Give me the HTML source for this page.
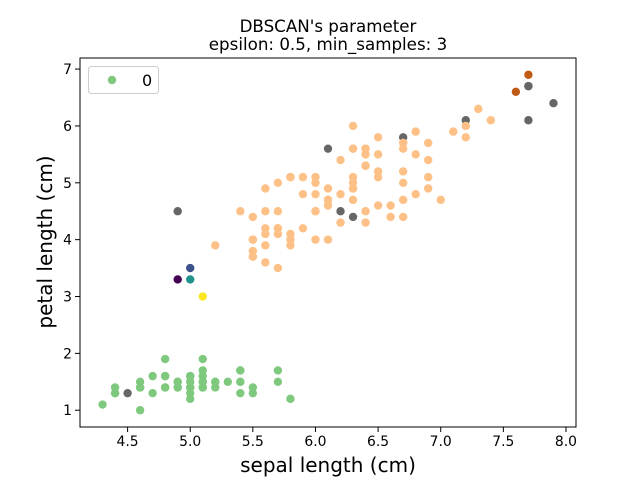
<!DOCTYPE html>
<html><head><meta charset="utf-8"><style>
body{margin:0;background:#fff}
svg text{font-family:"DejaVu Sans","Liberation Sans",sans-serif;fill:#000}
</style></head><body>
<svg id="chart" width="640" height="480" xmlns="http://www.w3.org/2000/svg">
<rect width="640" height="480" fill="#fff"/>
<text x="328" y="32" font-size="16.7" text-anchor="middle">DBSCAN's parameter</text>
<text x="328" y="50" font-size="16.7" text-anchor="middle">epsilon: 0.5, min_samples: 3</text>
<g id="ticks"></g>
<g id="points"></g>
<rect x="80" y="58" width="496" height="369" fill="none" stroke="#000" stroke-width="1"/>
<text x="328" y="472" font-size="20" text-anchor="middle">sepal length (cm)</text>
<text transform="translate(52,242) rotate(-90)" font-size="20" text-anchor="middle">petal length (cm)</text>
<g>
<rect x="88.5" y="66.5" width="70" height="27" rx="3" fill="#fff" stroke="#ccc"/>
<circle cx="112" cy="80" r="4.2" fill="#7fc97f"/>
<text x="142" y="86" font-size="16">0</text>
</g>
</svg>
<script>
const xTicks=[4.5,5.0,5.5,6.0,6.5,7.0,7.5,8.0];
const yTicks=[1,2,3,4,5,6,7];
const sepal=[5.1,4.9,4.7,4.6,5.0,5.4,4.6,5.0,4.4,4.9,5.4,4.8,4.8,4.3,5.8,5.7,5.4,5.1,5.7,5.1,5.4,5.1,4.6,5.1,4.8,5.0,5.0,5.2,5.2,4.7,4.8,5.4,5.2,5.5,4.9,5.0,5.5,4.9,4.4,5.1,5.0,4.5,4.4,5.0,5.1,4.8,5.1,4.6,5.3,5.0,
7.0,6.4,6.9,5.5,6.5,5.7,6.3,4.9,6.6,5.2,5.0,5.9,6.0,6.1,5.6,6.7,5.6,5.8,6.2,5.6,5.9,6.1,6.3,6.1,6.4,6.6,6.8,6.7,6.0,5.7,5.5,5.5,5.8,6.0,5.4,6.0,6.7,6.3,5.6,5.5,5.5,6.1,5.8,5.0,5.6,5.7,5.7,6.2,5.1,5.7,
6.3,5.8,7.1,6.3,6.5,7.6,4.9,7.3,6.7,7.2,6.5,6.4,6.8,5.7,5.8,6.4,6.5,7.7,7.7,6.0,6.9,5.6,7.7,6.3,6.7,7.2,6.2,6.1,6.4,7.2,7.4,7.9,6.4,6.3,6.1,7.7,6.3,6.4,6.0,6.9,6.7,6.9,5.8,6.8,6.7,6.7,6.3,6.5,6.2,5.9];
const petal=[1.4,1.4,1.3,1.5,1.4,1.7,1.4,1.5,1.4,1.5,1.5,1.6,1.4,1.1,1.2,1.5,1.3,1.4,1.7,1.5,1.7,1.5,1.0,1.7,1.9,1.6,1.6,1.5,1.4,1.6,1.6,1.5,1.5,1.4,1.5,1.2,1.3,1.4,1.3,1.5,1.3,1.3,1.3,1.6,1.9,1.4,1.6,1.4,1.5,1.4,
4.7,4.5,4.9,4.0,4.6,4.5,4.7,3.3,4.6,3.9,3.5,4.2,4.0,4.7,3.6,4.4,4.5,4.1,4.5,3.9,4.8,4.0,4.9,4.7,4.3,4.4,4.8,5.0,4.5,3.5,3.8,3.7,3.9,5.1,4.5,4.5,4.7,4.4,4.1,4.0,4.4,4.6,4.0,3.3,4.2,4.2,4.2,4.3,3.0,4.1,
6.0,5.1,5.9,5.6,5.8,6.6,4.5,6.3,5.8,6.1,5.1,5.3,5.5,5.0,5.1,5.3,5.5,6.7,6.9,5.0,5.7,4.9,6.7,4.9,5.7,6.0,4.8,4.9,5.6,5.8,6.1,6.4,5.6,5.1,5.6,6.1,5.6,5.5,4.8,5.4,5.6,5.1,5.1,5.9,5.7,5.2,5.0,5.2,5.4,5.1];
const labels=[0,0,0,0,0,0,0,0,0,0,0,0,0,0,0,0,0,0,0,0,0,0,0,0,0,0,0,0,0,0,0,0,0,0,0,0,0,0,0,0,0,-1,0,0,0,0,0,0,0,0,
1,1,1,1,1,1,1,2,1,1,3,1,1,1,1,1,1,1,-1,1,1,1,1,1,1,1,1,1,1,1,1,1,1,1,1,1,1,-1,1,1,1,1,1,4,1,1,1,1,5,1,
1,1,1,1,1,6,-1,1,-1,-1,1,1,1,1,1,1,1,-1,6,1,1,1,-1,1,1,1,1,1,1,1,1,-1,1,1,-1,-1,1,1,1,1,1,1,1,1,1,1,1,1,1,1];
const colors={"-1":"#666666","0":"#7fc97f","1":"#fdc086","2":"#440154","3":"#3b528b","4":"#21918c","5":"#fde725","6":"#bf5b17"};
const X0=80,X1=576,Y0=427,Y1=58,xmin=4.12,xmax=8.08,ymin=0.705,ymax=7.195;
function sx(v){return X0+(v-xmin)/(xmax-xmin)*(X1-X0);}
function sy(v){return Y0-(v-ymin)/(ymax-ymin)*(Y0-Y1);}
const NS="http://www.w3.org/2000/svg";
const tg=document.getElementById('ticks');
function mk(tag,attrs,parent){const e=document.createElementNS(NS,tag);for(const k in attrs)e.setAttribute(k,attrs[k]);parent.appendChild(e);return e;}
xTicks.forEach(t=>{const x=sx(t);
const l=mk('line',{x1:x,x2:x,y1:Y0,y2:Y0+5,stroke:'#000'},tg);


const tx=mk('text',{x:x,y:Y0+19,'font-size':'13.9','text-anchor':'middle'},tg);tx.textContent=t.toFixed(1);

});
yTicks.forEach(t=>{const y=sy(t);
const l=mk('line',{x1:X0-5,x2:X0,y1:y,y2:y,stroke:'#000'},tg);


const tx=mk('text',{x:X0-8,y:y+5,'font-size':'13.9','text-anchor':'end'},tg);tx.textContent=t;

});
const pg=document.getElementById('points');
sepal.forEach((v,i)=>{const c=mk('circle',{cx:sx(v),cy:sy(petal[i]),r:4.2,fill:colors[labels[i]]},pg);

});
</script>
</body></html>
